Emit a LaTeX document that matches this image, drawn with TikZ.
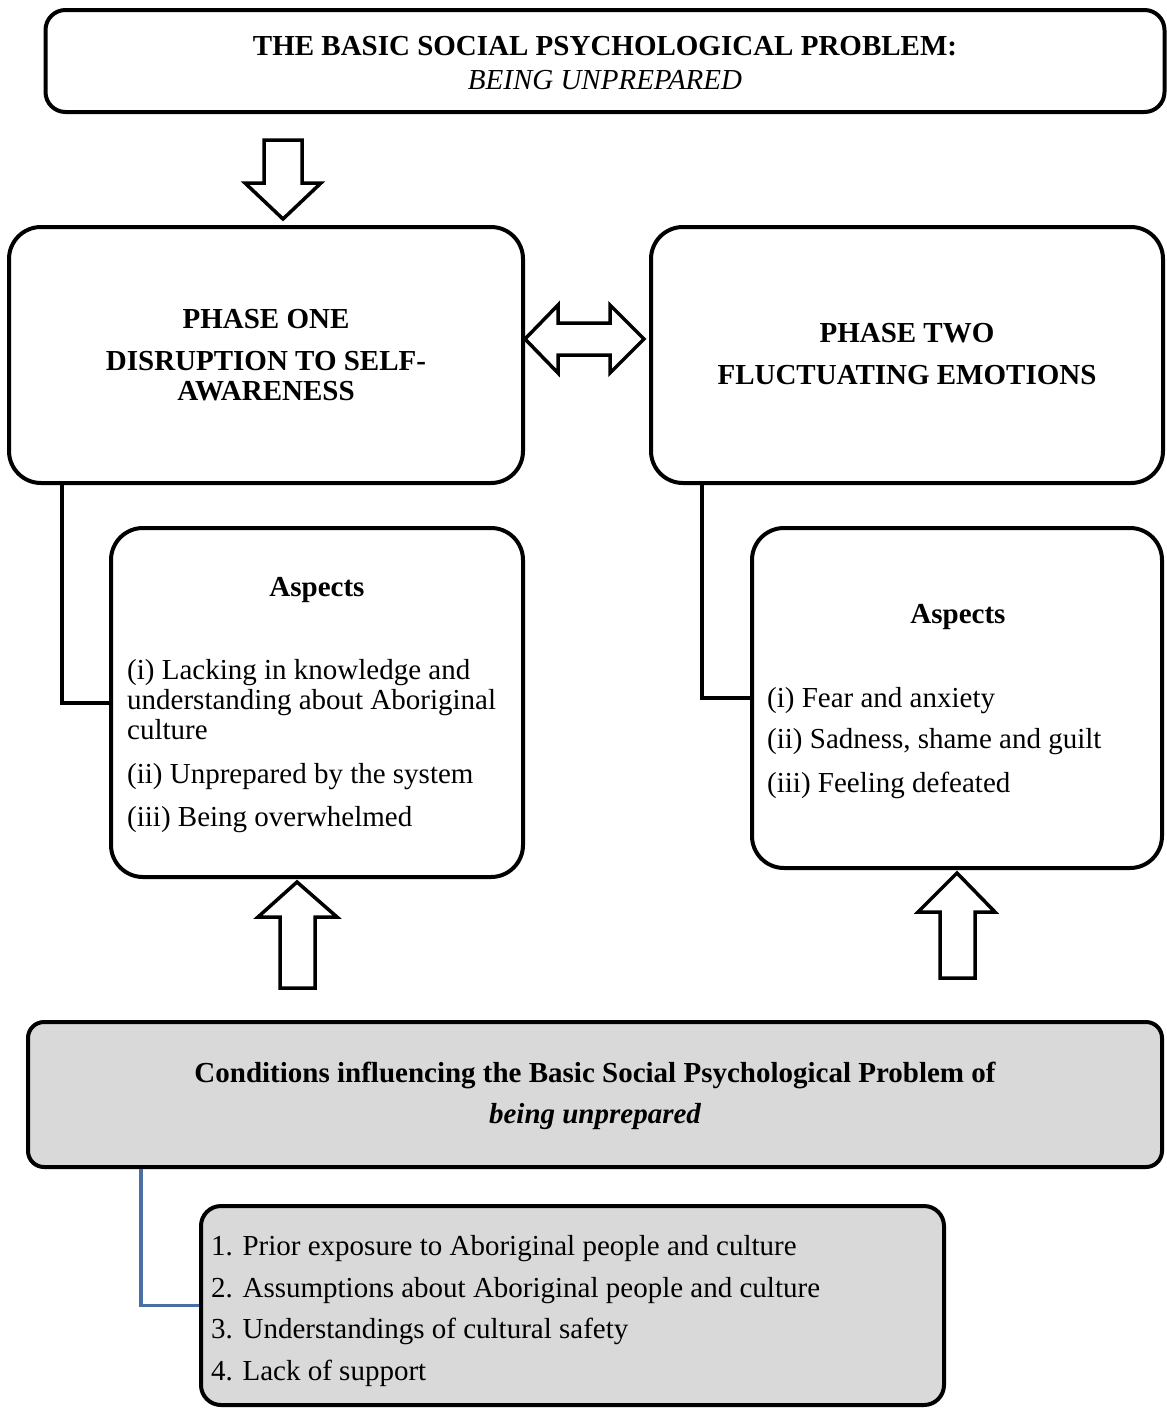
\documentclass[tikz,border=0pt]{standalone}
\usepackage{fontspec}
\setmainfont{Liberation Serif}
\usetikzlibrary{calc}
\definecolor{panelgray}{HTML}{D9D9D9}
\definecolor{linkblue}{HTML}{4A6FA5}
\newcommand\bodysize{\fontsize{29}{30}\selectfont}
\tikzset{
  box/.style={draw, line width=4pt, rounded corners=#1, fill=white, inner sep=0pt},
  box/.default=32pt,
  graybox/.style={box=#1, fill=panelgray},
  graybox/.default=16pt,
  txt/.style={inner sep=0pt, font=\bodysize},
  btxt/.style={inner sep=0pt, font=\bodysize\bfseries},
  link/.style={draw, line width=4pt},
  bluelink/.style={draw=linkblue, line width=3.5pt},
  blockarrow/.style={draw, line width=3.5pt, fill=white, line join=miter, miter limit=10}
}
\begin{document}
\begin{tikzpicture}[x=1pt, y=-1pt]
\useasboundingbox (0,0) rectangle (1167,1408);

% boxes
\node[box=20pt, minimum width=1119pt, minimum height=102pt] (top) at (605,61) {};
\node[box, minimum width=514pt, minimum height=256pt] (p1) at (266,355) {};
\node[box, minimum width=512pt, minimum height=256pt] (p2) at (907,355) {};
\node[box, minimum width=412pt, minimum height=349pt] (a1) at (317,702.5) {};
\node[box, minimum width=410pt, minimum height=340pt] (a2) at (957,698) {};
\node[graybox, minimum width=1134pt, minimum height=145pt] (cond) at (595,1094.5) {};
\node[graybox=20pt, minimum width=743pt, minimum height=199pt] (list) at (572.5,1305.5) {};

% texts (multi-line nodes are placed by the baseline of their last line)
\node[btxt, align=center, anchor=base] (toptext) at (605,89)
  {THE BASIC SOCIAL PSYCHOLOGICAL PROBLEM:\\[4pt]{\mdseries\itshape BEING UNPREPARED}};
\node[btxt, align=center, anchor=base] (p1text) at (266,400)
  {PHASE ONE\\[12pt]DISRUPTION TO SELF-\\AWARENESS};
\node[btxt, align=center, anchor=base] (p2text) at (907,384)
  {PHASE TWO\\[12pt]FLUCTUATING EMOTIONS};
\node[btxt, anchor=base] (a1head) at (317,596) {Aspects};
\node[btxt, anchor=base] (a2head) at (958,623) {Aspects};
\node[txt, align=left, anchor=base west] (a1items) at (127,826)
  {(i) Lacking in knowledge and\\understanding about Aboriginal\\culture\\[14pt](ii) Unprepared by the system\\[13pt](iii) Being overwhelmed};
\node[txt, align=left, anchor=base west] (a2items) at (767,792)
  {(i) Fear and anxiety\\[11pt](ii) Sadness, shame and guilt\\[14pt](iii) Feeling defeated};
\node[btxt, align=center, anchor=base] (condtext) at (595,1123)
  {Conditions influencing the Basic Social Psychological Problem of\\[11pt]\itshape being unprepared};
\node[txt, align=left, anchor=base west] (listitems) at (211,1380)
  {1. Prior exposure to Aboriginal people and culture\\[12pt]2. Assumptions about Aboriginal people and culture\\[11pt]3. Understandings of cultural safety\\[12pt]4. Lack of support};

% tree connectors
\coordinate (k1) at (62,0);
\coordinate (k2) at (702,0);
\coordinate (k3) at (141,0);
\draw[link] (p1.south -| k1) |- (a1.west);
\draw[link] (p2.south -| k2) |- (a2.west);
\draw[bluelink] (cond.south -| k3) |- (list.west);

% block arrows
\draw[blockarrow] (264,140) -- (302,140) -- (302,183) -- (321,183) -- (283,219)
  -- (245,183) -- (264,183) -- cycle;
\draw[blockarrow] (525,339) -- (558,305) -- (558,323) -- (610,323) -- (610,305)
  -- (644,339) -- (610,373) -- (610,355) -- (558,355) -- (558,373) -- cycle;
\draw[blockarrow] (297,882) -- (337,917) -- (315,917) -- (315,988) -- (280,988)
  -- (280,917) -- (258,917) -- cycle;
\draw[blockarrow] (957,873) -- (995,912) -- (975,912) -- (975,978) -- (940,978)
  -- (940,912) -- (918,912) -- cycle;
\end{tikzpicture}
\end{document}
